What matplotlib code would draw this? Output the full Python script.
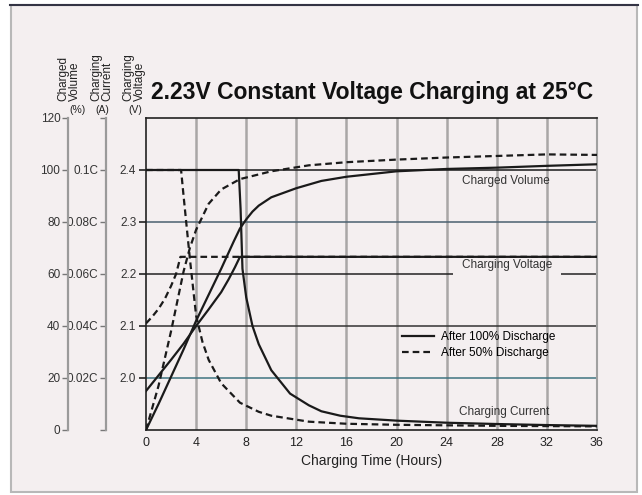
import matplotlib
matplotlib.use("Agg")
import matplotlib.pyplot as plt
from matplotlib.patches import Rectangle
from matplotlib.lines import Line2D

plt.rcParams['font.family'] = ['Liberation Sans', 'DejaVu Sans']

# ---- data ----
# charged volume (%)
vol_t_100 = [0, 1, 2, 3, 4, 5, 6, 7, 7.5, 8, 8.5, 9, 10, 12, 14, 16, 20, 24, 28, 32, 36]
vol_100 = [0, 10, 20.5, 31, 42, 52, 62, 72.5, 77.5, 81, 84, 86.3, 89.5, 93, 95.8, 97.4, 99.5, 100.4, 100.9, 101.6, 102.2]
vol_t_50 = [0, 1, 2, 3, 3.5, 4, 5, 6, 7.5, 10, 13, 16, 20, 24, 28, 32, 36]
vol_50 = [0, 17, 38, 61, 70, 77, 87, 92.5, 96.5, 99.5, 101.8, 103, 104, 104.8, 105.4, 106, 105.8]

# charging voltage (V)
volt_t_100 = [0, 1, 2, 3, 4, 5, 6, 6.6, 7.1, 7.5, 36]
volt_100 = [1.975, 2.005, 2.035, 2.066, 2.1, 2.132, 2.165, 2.19, 2.213, 2.233, 2.233]
volt_t_50 = [0, 0.5, 1, 1.5, 2, 2.4, 2.75, 36]
volt_50 = [2.105, 2.118, 2.133, 2.152, 2.177, 2.2, 2.233, 2.233]

# charging current (C)
cur_t_100 = [0, 7.4, 7.55, 7.7, 8.0, 8.5, 9, 10, 11.5, 13, 14, 15.5, 17, 20, 24, 28, 32, 36]
cur_100 = [0.1, 0.1, 0.085, 0.062, 0.051, 0.040, 0.033, 0.023, 0.014, 0.0095, 0.0072, 0.0055, 0.0045, 0.0036, 0.0028, 0.0023, 0.0019, 0.0016]
cur_t_50 = [0, 2.8, 3.0, 3.5, 4, 4.5, 5, 6, 7.5, 9, 10, 13, 16, 20, 24, 28, 32, 36]
cur_50 = [0.1, 0.1, 0.09, 0.066, 0.044, 0.034, 0.027, 0.018, 0.0105, 0.007, 0.0055, 0.0032, 0.0024, 0.002, 0.0018, 0.0016, 0.0015, 0.0014]

hours = [0, 4, 8, 12, 16, 20, 24, 28, 32, 36]
volt_ticks = [2.0, 2.1, 2.2, 2.3, 2.4]
vol_ticks = [0, 20, 40, 60, 80, 100, 120]
cur_ticks = [0, 0.02, 0.04, 0.06, 0.08, 0.1, 0.12]
cur_labels = ['', '0.02C', '0.04C', '0.06C', '0.08C', '0.1C', '']

W, H = 642, 495
fig = plt.figure(figsize=(W / 100, H / 100), dpi=100)
fig.patch.set_facecolor('white')
bg = '#f4eff0'
fig.patches.append(Rectangle((11 / W, 3 / H), 626 / W, 487 / H, transform=fig.transFigure,
                             facecolor=bg, edgecolor='#b8b8b8', lw=1.5, zorder=-10))
fig.lines.append(Line2D([10 / W, 638 / W], [1 - 5 / H, 1 - 5 / H], transform=fig.transFigure,
                        color='#333344', lw=1.5))

ax = fig.add_axes([146 / W, 65 / H, 451 / W, 312 / H])
ax.set_facecolor('none')
ax.set_xlim(0, 36)
ax.set_ylim(1.9, 2.5)

# grid
for h in hours[1:-1]:
    ax.axvline(h, color='#a9a6a6', lw=1.8, zorder=0)
grid_cols = {2.0: '#3f7480', 2.1: '#333333', 2.2: '#222222', 2.3: '#4a6070', 2.4: '#1a1a1a'}
for v in volt_ticks:
    if v == 2.2:
        ax.hlines([v, v], [0, 33.1], [24.5, 36], color=grid_cols[v], lw=1.1, zorder=1)
    else:
        ax.axhline(v, color=grid_cols[v], lw=1.1, zorder=1)

for s in ['top', 'bottom', 'left']:
    ax.spines[s].set_color('#222222')
    ax.spines[s].set_linewidth(1.2)
ax.spines['right'].set_color('#a0a0a0')
ax.spines['right'].set_linewidth(1.5)

ax.set_xticks(hours)
ax.tick_params(axis='x', length=0, pad=5, labelsize=9, labelcolor='#222222')
ax.set_yticks(volt_ticks)
ax.set_yticklabels([f'{v:.1f}' for v in volt_ticks])
ax.tick_params(axis='y', length=5, width=1.2, pad=2, labelsize=8.5, labelcolor='#333333', color='#222222')
ax.set_xlabel('Charging Time (Hours)', fontsize=10, color='#222222', labelpad=4)

ls_dash = (0, (3, 1.8))
ax.plot(volt_t_100, volt_100, color='#1a1a1a', lw=1.6, zorder=3)
ax.plot(volt_t_50, volt_50, color='#1a1a1a', lw=1.6, ls=ls_dash, zorder=3)

# current axis
ax_c = ax.twinx()
ax_c.set_ylim(0, 0.12)
for s in ['top', 'bottom', 'right']:
    ax_c.spines[s].set_visible(False)
ax_c.spines['left'].set_visible(True)
ax_c.spines['left'].set_position(('axes', -40 / 451))
ax_c.spines['left'].set_color('#9a9a9a')
ax_c.spines['left'].set_linewidth(1.6)
ax_c.yaxis.tick_left()
ax_c.set_yticks(cur_ticks)
ax_c.set_yticklabels(cur_labels)
ax_c.tick_params(axis='y', length=4, width=1, pad=1.5, labelsize=8.5, labelcolor='#333333', color='#777777')
ax_c.plot(cur_t_100, cur_100, color='#1a1a1a', lw=1.6, zorder=3)
ax_c.plot(cur_t_50, cur_50, color='#1a1a1a', lw=1.6, ls=ls_dash, zorder=3)

# volume axis
ax_v = ax.twinx()
ax_v.set_ylim(0, 120)
for s in ['top', 'bottom', 'right']:
    ax_v.spines[s].set_visible(False)
ax_v.spines['left'].set_visible(True)
ax_v.spines['left'].set_position(('axes', -78 / 451))
ax_v.spines['left'].set_color('#9a9a9a')
ax_v.spines['left'].set_linewidth(1.6)
ax_v.yaxis.tick_left()
ax_v.set_yticks(vol_ticks)
ax_v.tick_params(axis='y', length=4, width=1, pad=1.5, labelsize=8.5, labelcolor='#333333', color='#777777')
l1, = ax_v.plot(vol_t_100, vol_100, color='#1a1a1a', lw=1.6, zorder=3)
l2, = ax_v.plot(vol_t_50, vol_50, color='#1a1a1a', lw=1.6, ls=ls_dash, zorder=3)

ax_v.legend([l1, l2], ['After 100% Discharge', 'After 50% Discharge'],
            loc='upper left', bbox_to_anchor=(0.568, 0.318), frameon=False,
            fontsize=8.5, handlelength=2.7, handletextpad=0.6, borderpad=0,
            borderaxespad=0, labelspacing=0.35)

# curve labels
ax.text(28.7, 2.378, 'Charged Volume', fontsize=8.5, ha='center', va='center', color='#333333')
ax.text(28.8, 2.218, 'Charging Voltage', fontsize=8.5, ha='center', va='center', color='#333333')
ax.text(28.6, 1.934, 'Charging Current', fontsize=8.5, ha='center', va='center', color='#333333')

# title and axis headers
fig.text(372 / W, 1 - 93 / H, '2.23V Constant Voltage Charging at 25°C',
         fontsize=16.5, fontweight='bold', ha='center', va='center', color='#111111')
for x, txt in [(69, 'Charged\nVolume'), (102, 'Charging\nCurrent'), (134, 'Charging\nVoltage')]:
    fig.text(x / W, 1 - 101 / H, txt, rotation=90, fontsize=8.5, ha='center', va='bottom',
             multialignment='left', linespacing=0.95, color='#222222')
for x, txt in [(77, '(%)'), (102, '(A)'), (135, '(V)')]:
    fig.text(x / W, 1 - 110 / H, txt, fontsize=7.5, ha='center', va='center', color='#222222')

fig.savefig('out.png', dpi=100, facecolor=fig.get_facecolor())
